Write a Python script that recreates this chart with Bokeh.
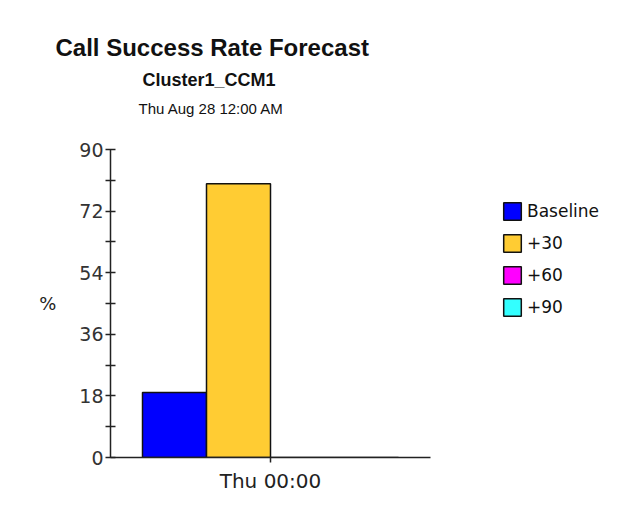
from bokeh.plotting import figure
from bokeh.models import ColumnDataSource, FactorRange, Range1d, Legend, LegendItem, FixedTicker, Title
from bokeh.transform import dodge
from bokeh.embed import file_html
from bokeh.resources import INLINE

# ---- data ----
categories = ["Thu 00:00"]
series_names = ["Baseline", "+30", "+60", "+90"]
series_values = [19, 80, 0, 0]
series_colors = ["#0000FF", "#FFCC33", "#FF00FF", "#33FFFF"]
y_ticks = [0, 18, 36, 54, 72, 90]
y_minor_ticks = [9, 27, 45, 63, 81]
title_text = "Call Success Rate Forecast"
subtitle_text = "Cluster1_CCM1"
date_text = "Thu Aug 28 12:00 AM"
y_label = "%"

FL, FR, FT, FB = 110, 198, 149, 52   # borders around the plot frame
FW, FH = 320, 308
W, H = FL + FW + FR, FT + FH + FB
p = figure(width=W, height=H, x_range=FactorRange(*categories), y_range=Range1d(0, 90),
           output_backend="svg", toolbar_location=None,
           min_border_left=FL, min_border_right=FR, min_border_top=FT, min_border_bottom=FB)
p.frame_width = FW
p.frame_height = FH
p.outline_line_color = None
p.xgrid.grid_line_color = None
p.ygrid.grid_line_color = None
p.background_fill_color = "white"
p.border_fill_color = "white"

offsets = [-0.3, -0.1, 0.1, 0.3]
renderers = []
for name, val, col, off in zip(series_names, series_values, series_colors, offsets):
    src = ColumnDataSource(dict(x=categories, top=[val]))
    r = p.vbar(x=dodge("x", off, range=p.x_range), top="top", width=0.2, source=src,
               fill_color=col, line_color="#111111", line_width=1.5)
    renderers.append((name, r))

# axes
ya = p.yaxis[0]
ya.ticker = FixedTicker(ticks=y_ticks, minor_ticks=y_minor_ticks)
ya.axis_line_color = "#222222"
ya.axis_line_width = 1.5
ya.major_tick_in = 5
ya.major_tick_out = 5
ya.minor_tick_in = 5
ya.minor_tick_out = 5
ya.major_tick_line_color = "#222222"
ya.minor_tick_line_color = "#222222"
ya.major_tick_line_width = 1.5
ya.minor_tick_line_width = 1.5
ya.major_label_text_font = "DejaVu Sans"
ya.major_label_text_font_size = "19px"
ya.major_label_text_color = "#333333"
ya.major_label_standoff = 2
ya.axis_label = y_label
ya.axis_label_orientation = "horizontal"
ya.axis_label_standoff = 20
ya.axis_label_text_font = "DejaVu Sans"
ya.axis_label_text_font_size = "18px"
ya.axis_label_text_font_style = "normal"
ya.axis_label_text_color = "#222222"

xa = p.xaxis[0]
xa.axis_line_color = "#222222"
xa.axis_line_width = 1.5
xa.major_tick_in = 0
xa.major_tick_out = 5
xa.major_tick_line_color = "#222222"
xa.major_tick_line_width = 1.5
xa.minor_tick_line_color = None
xa.major_label_text_font = "DejaVu Sans"
xa.major_label_text_font_size = "20px"
xa.major_label_text_color = "#222222"
xa.major_label_standoff = 6

# titles stacked above the frame (first added = nearest the frame)
def add_title(text, size, bold, offset, standoff):
    p.add_layout(Title(text=text, align="left", offset=offset, vertical_align="middle",
                       standoff=standoff, text_font="Liberation Sans", text_font_size=size,
                       text_font_style="bold" if bold else "normal", text_color="#111111"), "above")

add_title(" ", "10px", False, 0, 14)                 # spacer
add_title(date_text, "15px", False, 138 - FL, 9)
add_title(subtitle_text, "18px", True, 142 - FL, 7)
add_title(title_text, "24px", True, 55 - FL, 8)

legend = Legend(items=[LegendItem(label=n, renderers=[r]) for n, r in renderers],
                location=(71, 139), glyph_width=22, glyph_height=22, spacing=10,
                label_standoff=4, padding=0, margin=0, border_line_color=None,
                label_text_font="DejaVu Sans", label_text_font_size="17px",
                label_text_color="#111111", background_fill_alpha=0)
p.add_layout(legend, "right")

open("out.html", "w").write(file_html(p, INLINE))
